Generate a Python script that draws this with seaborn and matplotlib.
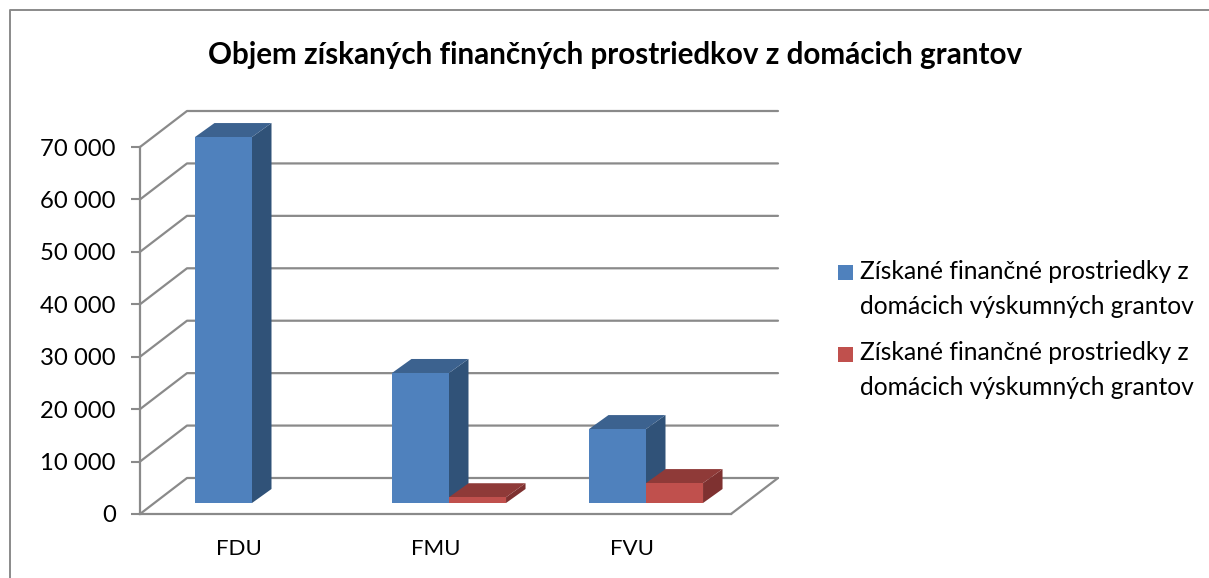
import pandas as pd
import matplotlib
matplotlib.use('Agg')
import matplotlib.pyplot as plt
from matplotlib.lines import Line2D
from matplotlib.patches import Polygon, Rectangle
from matplotlib.transforms import Affine2D, IdentityTransform
import seaborn as sns

categories = ['FDU', 'FMU', 'FVU']
series_blue = [69800, 24800, 14100]
series_red = [0, 1100, 3800]
series_label = 'Získané finančné prostriedky z\ndomácich výskumných grantov'
y_ticks = [0, 10000, 20000, 30000, 40000, 50000, 60000, 70000]
y_tick_labels = ['0', '10 000', '20 000', '30 000', '40 000', '50 000', '60 000', '70 000']
title = 'Objem získaných finančných prostriedkov z domácich grantov'

W, H = 1209, 578
GRAY = '#8a8a8a'
# front, side, top
shades = [('#4f81bd', '#305278', '#3c628f'), ('#c0504d', '#7e3130', '#8f3a38')]
wall_dx, wall_dy = 47, 36    # depth of the floor, pixels
bar_dx, bar_dy = 13.5, 11    # bars stand a bit behind the front edge
depth_dx, depth_dy = 19.5, 14

sns.set_theme(style='white')
plt.rcParams['font.family'] = ['Lato', 'DejaVu Sans']

df = pd.DataFrame({
    'category': categories * 2,
    'value': series_blue + series_red,
    'series': ['a'] * 3 + ['b'] * 3,
})

fig = plt.figure(figsize=(W / 100, H / 100), dpi=100)
ax = fig.add_axes([140 / W, (H - 514) / H, 591 / W, 367 / H])
sns.barplot(data=df, x='category', y='value', hue='series', width=0.579, gap=0,
            palette=[shades[0][0], shades[1][0]], legend=False, ax=ax, linewidth=0, saturation=1)
ax.set_xlim(-0.5, 2.5)
ax.set_ylim(0, 70000)
ax.set_xlabel('')
ax.set_ylabel('')
ax.set_yticks(y_ticks, y_tick_labels)
ax.tick_params(axis='y', length=6.5, width=1.5, color=GRAY, pad=11, labelsize=17.2, labelcolor='black', left=True)
ax.tick_params(axis='x', length=0, pad=18, labelsize=16, labelcolor='black')
sns.despine(ax=ax)
for s in ['left', 'bottom']:
    ax.spines[s].set_color(GRAY)
    ax.spines[s].set_linewidth(1.6)


def px(x, y):
    return ax.transData.transform((x, y))


# walls and floor
for v in y_ticks:
    x0, y0 = px(-0.5, v)
    x1, y1 = px(2.5, v)
    ax.add_line(Line2D([x0, x0 + wall_dx, x1 + wall_dx], [y0, y0 + wall_dy, y1 + wall_dy],
                       color=GRAY, lw=1.6, transform=IdentityTransform(), clip_on=False, zorder=1))
x1, y1 = px(2.5, 0)
ax.add_line(Line2D([x1, x1 + wall_dx], [y1, y1 + wall_dy], color=GRAY, lw=1.6,
                   transform=IdentityTransform(), clip_on=False, zorder=1))

# seaborn gives the front faces, side and top are built from them
shift = Affine2D().translate(bar_dx, bar_dy)
for i, container in enumerate(ax.containers):
    front, side, top = shades[i]
    for bar in container:
        bar.set_transform(ax.transData + shift)
        bar.set_clip_on(False)
        bar.set_zorder(4 + 2 * i)
        h = bar.get_height()
        if h <= 0:
            bar.set_visible(False)
            continue
        bx0, by0 = px(bar.get_x(), 0)
        bx1, by1 = px(bar.get_x() + bar.get_width(), h)
        bx0, bx1 = bx0 + bar_dx, bx1 + bar_dx
        by0, by1 = by0 + bar_dy, by1 + bar_dy
        side_pts = [(bx1, by0), (bx1 + depth_dx, by0 + depth_dy), (bx1 + depth_dx, by1 + depth_dy), (bx1, by1)]
        top_pts = [(bx0, by1), (bx1, by1), (bx1 + depth_dx, by1 + depth_dy), (bx0 + depth_dx, by1 + depth_dy)]
        ax.add_patch(Polygon(side_pts, closed=True, fc=side, ec='none', transform=IdentityTransform(),
                             clip_on=False, zorder=3 + 2 * i))
        ax.add_patch(Polygon(top_pts, closed=True, fc=top, ec='none', transform=IdentityTransform(),
                             clip_on=False, zorder=3 + 2 * i))

fig.text(615.5 / W, 1 - 55 / H, title, ha='center', va='center', fontsize=21.35, fontweight='bold', color='black')

# legend by hand, the swatch sits on the first line of the wrapped label
for (swatch_y, text_y), shade in zip([(265, 289), (347, 370)], shades):
    fig.add_artist(Rectangle((838 / W, 1 - (swatch_y + 15) / H), 15 / W, 15 / H, fc=shade[0], ec='none',
                             transform=fig.transFigure))
    fig.text(860 / W, 1 - text_y / H, series_label, ha='left', va='center', fontsize=17.7,
             linespacing=1.58, color='black')

# chart frame, only left and top show in the crop
fig.add_artist(Line2D([10 / W, 10 / W, 1], [0, 1 - 10 / H, 1 - 10 / H], color=GRAY, lw=1.4))

plt.savefig('out.png', dpi=100)
plt.close()
